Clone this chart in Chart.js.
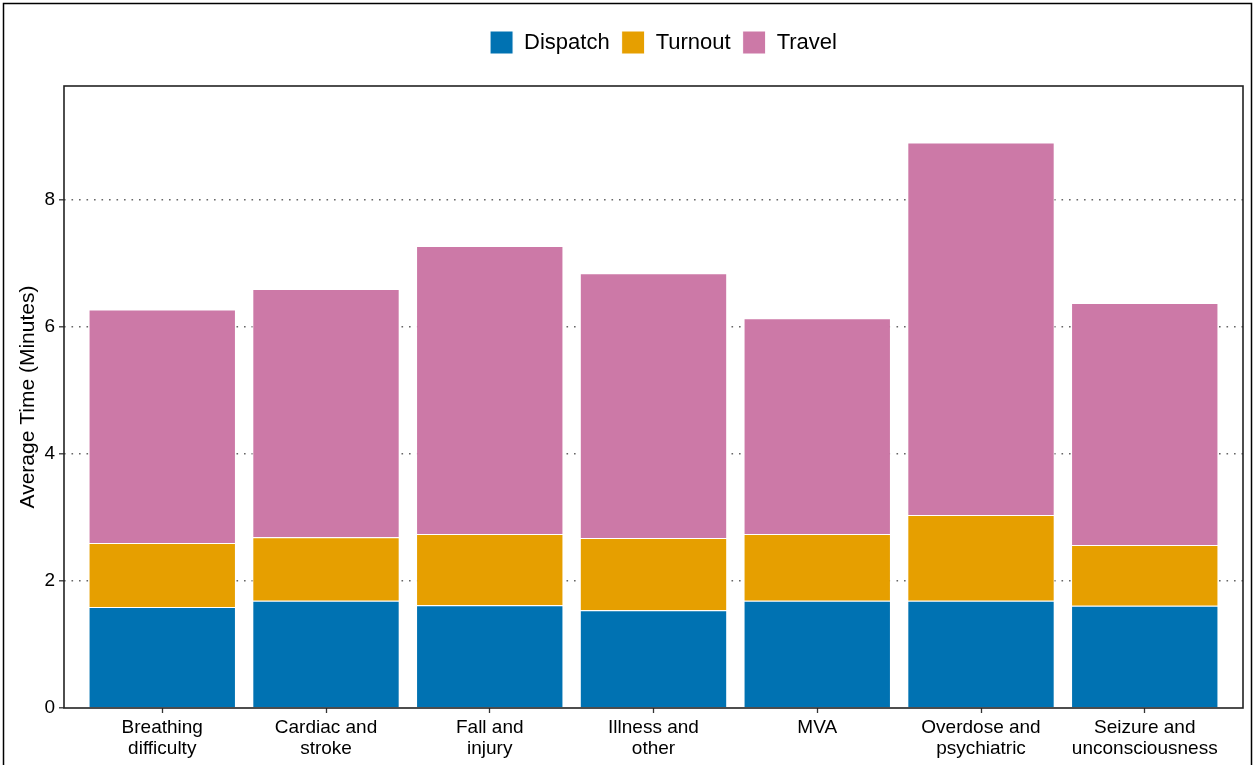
<!DOCTYPE html>
<html>
<head>
<meta charset="utf-8">
<script src="https://cdn.jsdelivr.net/npm/chart.js@4"></script>
<style>
  html, body { margin: 0; padding: 0; background: #fff; }
  #wrap { width: 1255px; height: 765px; position: relative; }
</style>
</head>
<body>
<div id="wrap"><canvas id="chart" width="1255" height="765"></canvas></div>
<script>
// Response time components by call type
const categories = [
  ['Breathing', 'difficulty'],
  ['Cardiac and', 'stroke'],
  ['Fall and', 'injury'],
  ['Illness and', 'other'],
  ['MVA'],
  ['Overdose and', 'psychiatric'],
  ['Seizure and', 'unconsciousness']
];
const dispatch = [1.59, 1.69, 1.62, 1.54, 1.69, 1.69, 1.61];
const turnout  = [1.01, 1.00, 1.12, 1.14, 1.05, 1.35, 0.96];
const travel   = [3.68, 3.91, 4.54, 4.17, 3.40, 5.87, 3.81];
const yTicks   = [0, 2, 4, 6, 8];

const toPoints = arr => arr.map((v, i) => ({ x: i, y: v }));
const font = 'Liberation Sans, Arial, sans-serif';

// outer frame + panel border (ggplot theme_bw look)
const frame = {
  id: 'frame',
  beforeDraw(chart) {
    const c = chart.ctx;
    c.save();
    c.fillStyle = '#fff';
    c.fillRect(0, 0, chart.width, chart.height);
    c.strokeStyle = '#000';
    c.lineWidth = 1.5;
    c.strokeRect(3.5, 3.5, 1248, 800);
    c.restore();
  },
  afterDatasetsDraw(chart) {
    const a = chart.chartArea, c = chart.ctx;
    c.save();
    c.strokeStyle = '#222';
    c.lineWidth = 1.6;
    c.strokeRect(a.left, a.top, a.right - a.left, a.bottom - a.top);
    c.restore();
  }
};

// push the plot panel down below the legend, and centre legend on the panel
const legendGap = {
  id: 'legendGap',
  beforeInit(chart) {
    const fit = chart.legend.fit;
    chart.legend.fit = function () {
      fit.bind(chart.legend)();
      this.height = 67;
    };
  },
  afterLayout(chart) {
    chart.legend.left += 34;
    chart.legend.right += 34;
    if (chart.legend.legendHitBoxes) chart.legend.legendHitBoxes.forEach(b => { b.left += 34; });
  }
};

new Chart(document.getElementById('chart'), {
  type: 'bar',
  data: {
    datasets: [
      { label: 'Dispatch', data: toPoints(dispatch), backgroundColor: '#0072B2' },
      { label: 'Turnout',  data: toPoints(turnout),  backgroundColor: '#E69F00' },
      { label: 'Travel',   data: toPoints(travel),   backgroundColor: '#CC79A7' }
    ]
  },
  options: {
    responsive: false,
    animation: false,
    layout: { padding: { top: 19, left: 16, right: 12, bottom: 0 } },
    datasets: {
      bar: {
        borderColor: '#ffffff',
        borderWidth: 1,
        barPercentage: 0.9,
        categoryPercentage: 1.0
      }
    },
    plugins: {
      legend: {
        position: 'top',
        labels: {
          color: '#000',
          font: { family: font, size: 22 },
          boxWidth: 23,
          boxHeight: 23,
          padding: 12
        }
      },
      tooltip: { enabled: false }
    },
    scales: {
      x: {
        type: 'linear',
        stacked: true,
        offset: false,
        min: -0.6,
        max: 6.6,
        afterBuildTicks: s => { s.ticks = categories.map((c, i) => ({ value: i })); },
        afterFit: s => { s.height = 57; },
        ticks: {
          color: '#000',
          font: { family: font, size: 19, lineHeight: 1.1 },
          padding: 4,
          maxRotation: 0,
          autoSkip: false,
          callback: v => categories[v]
        },
        grid: { offset: false, drawOnChartArea: false, tickLength: 5, tickColor: '#333', tickWidth: 1.3 },
        border: { display: false }
      },
      y: {
        stacked: true,
        min: 0,
        max: 9.8,
        afterBuildTicks: s => { s.ticks = yTicks.map(v => ({ value: v })); },
        afterFit: s => { s.width = 48; },
        ticks: {
          color: '#000',
          font: { family: font, size: 19 },
          padding: 4
        },
        grid: {
          color: ctx => ctx.tick && ctx.tick.value === 0 ? 'rgba(0,0,0,0)' : '#666',
          lineWidth: 1.6,
          tickBorderDash: [],
          tickColor: '#333',
          tickWidth: 1.3,
          tickLength: 5
        },
        border: { display: false, dash: [1.6, 5.9] },
        title: {
          display: true,
          text: 'Average Time (Minutes)',
          color: '#000',
          font: { family: font, size: 21 },
          padding: { top: 0, bottom: 2 }
        }
      }
    }
  },
  plugins: [frame, legendGap]
});
</script>
</body>
</html>
